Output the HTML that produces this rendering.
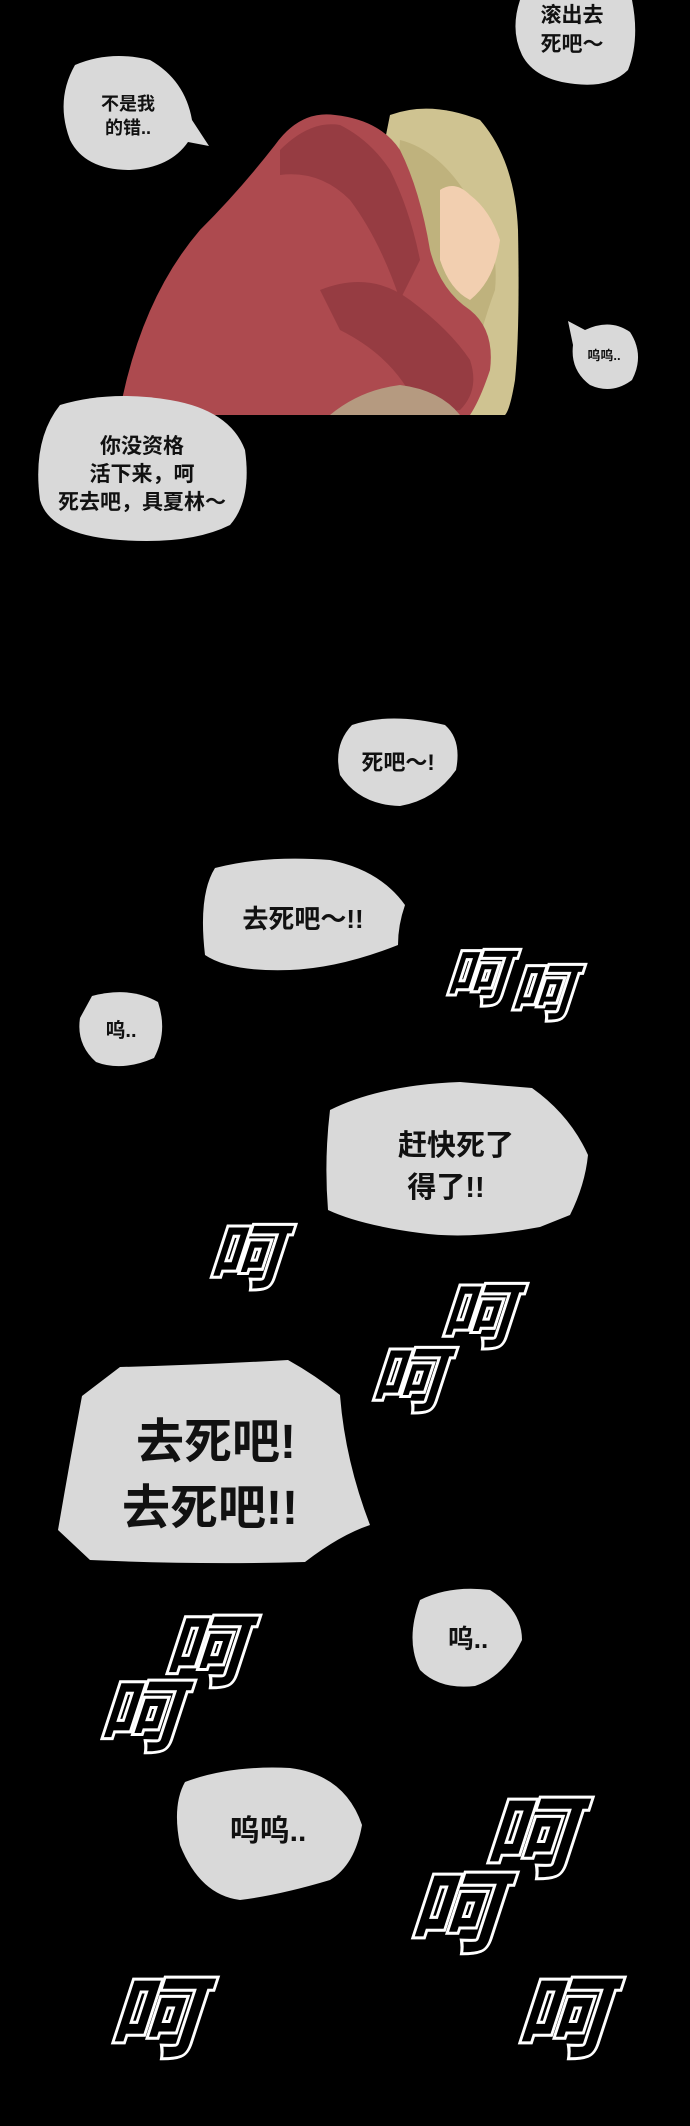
<!DOCTYPE html>
<html><head><meta charset="utf-8"><style>
html,body{margin:0;padding:0;background:#000;}
svg{display:block}
.t{font-family:"Liberation Sans","Noto Sans CJK SC",sans-serif;font-weight:bold;fill:#111;text-anchor:middle}
.h{font-family:"Noto Sans CJK SC","WenQuanYi Zen Hei",sans-serif;font-weight:900;fill:#000;stroke:#fff;stroke-width:3;stroke-linejoin:miter}
</style></head><body>
<svg width="690" height="2126" viewBox="0 0 690 2126" xmlns="http://www.w3.org/2000/svg">
<rect width="690" height="2126" fill="#000"/>
<g>
 <path d="M390 115 Q430 100 480 120 Q515 160 518 230 Q520 330 515 380 Q510 410 505 415 L330 415 Z" fill="#cfc391"/>
 <path d="M400 140 Q440 150 470 200 Q500 240 495 290 Q480 330 470 380 L430 415 L380 415 Z" fill="#bfb27d"/>
 <path d="M119 415 Q140 300 200 230 Q240 190 275 145 Q300 110 335 115 Q380 120 400 150 Q420 190 430 250 Q440 290 470 310 Q495 330 490 370 Q480 400 470 415 Z" fill="#ad4a4f"/>
 <path d="M280 150 Q310 120 340 125 Q370 140 390 170 Q410 210 420 260 L400 300 Q380 240 350 200 Q320 170 280 175 Z" fill="#963c42"/>
 <path d="M320 290 Q370 270 410 300 Q450 330 470 360 Q480 390 460 410 L420 415 Q400 360 340 330 Z" fill="#963c42"/>
 <path d="M440 190 Q455 180 470 195 Q490 210 500 240 Q495 280 470 300 Q450 290 440 260 Z" fill="#f2cfb0"/>
 <path d="M330 415 Q360 390 400 385 Q440 390 460 415 Z" fill="#b59a80"/>
</g>
<path d="M520 0 L632 0 Q640 40 628 70 Q610 88 575 84 Q535 80 522 55 Q510 30 520 0 Z" fill="#d9d9d9"/>
<text class="t" font-size="21" x="572" y="22">滚出去</text>
<text class="t" font-size="21" x="572" y="51">死吧～</text>

<path d="M75 65 Q110 50 150 60 Q185 80 192 120 L209 146 L188 142 Q170 168 130 170 Q85 170 70 140 Q55 100 75 65 Z" fill="#d9d9d9"/>
<text class="t" font-size="18" x="128" y="110">不是我</text>
<text class="t" font-size="18" x="128" y="134">的错..</text>

<path d="M568 321 L585 330 Q610 318 630 332 Q645 355 632 380 Q612 395 590 385 Q570 370 573 345 Z" fill="#d9d9d9"/>
<text class="t" font-size="13" x="604" y="360">呜呜..</text>

<path d="M60 405 Q110 390 170 400 Q230 410 245 450 Q252 500 230 525 Q190 545 120 540 Q50 535 40 500 Q32 440 60 405 Z" fill="#d9d9d9"/>
<text class="t" font-size="21" x="142" y="453">你没资格</text>
<text class="t" font-size="21" x="142" y="481">活下来，呵</text>
<text class="t" font-size="21" x="142" y="509">死去吧，具夏林～</text>

<!-- lower bubbles -->
<path d="M352 725 Q390 712 445 725 Q462 740 456 770 Q435 800 400 806 Q360 805 340 775 Q333 745 352 725 Z" fill="#d9d9d9"/>
<text class="t" font-size="22" x="398" y="770">死吧～!</text>

<path d="M215 868 Q265 855 330 860 Q380 870 405 905 Q398 925 398 945 Q340 968 290 970 Q230 972 205 955 Q198 895 215 868 Z" fill="#d9d9d9"/>
<text class="t" font-size="26" x="303" y="928">去死吧～!!</text>

<path d="M92 996 Q130 986 158 1002 Q168 1032 154 1058 Q122 1072 96 1062 Q76 1044 80 1018 Z" fill="#d9d9d9"/>
<text class="t" font-size="20" x="121" y="1037">呜..</text>

<path d="M330 1110 Q380 1085 460 1082 L532 1088 Q570 1115 588 1155 Q585 1185 570 1215 L540 1227 Q470 1240 420 1233 Q360 1225 328 1210 Q324 1160 330 1110 Z" fill="#d9d9d9"/>
<text class="t" font-size="29" x="456" y="1155">赶快死了</text>
<text class="t" font-size="29" x="446" y="1197">得了!!</text>

<path d="M82 1396 L120 1367 Q200 1365 288 1360 Q315 1375 340 1395 Q345 1460 370 1525 Q340 1535 305 1562 Q200 1565 90 1560 L58 1530 Q70 1460 82 1396 Z" fill="#d9d9d9"/>
<text class="t" font-size="48" x="216" y="1458">去死吧!</text>
<text class="t" font-size="48" x="210" y="1524">去死吧!!</text>

<path d="M420 1600 Q450 1585 490 1590 Q522 1610 522 1640 Q505 1676 475 1686 Q440 1690 420 1670 Q405 1640 420 1600 Z" fill="#d9d9d9"/>
<text class="t" font-size="26" x="468" y="1648">呜..</text>

<path d="M185 1782 Q230 1765 290 1768 Q345 1775 362 1825 Q355 1865 330 1880 Q280 1895 240 1900 Q200 1895 180 1845 Q172 1805 185 1782 Z" fill="#d9d9d9"/>
<text class="t" font-size="30" x="268" y="1841">呜呜..</text>

<!-- outlined 呵 -->
<g transform="translate(442,1000) skewX(-18)"><text class="h" font-size="64">呵</text></g>
<g transform="translate(507,1015) skewX(-18)"><text class="h" font-size="64">呵</text></g>
<g transform="translate(205,1283) skewX(-18)"><text class="h" font-size="74">呵</text></g>
<g transform="translate(437,1342) skewX(-18)"><text class="h" font-size="74">呵</text></g>
<g transform="translate(367,1406) skewX(-18)"><text class="h" font-size="74">呵</text></g>
<g transform="translate(160,1680) skewX(-18)"><text class="h" font-size="82">呵</text></g>
<g transform="translate(95,1745) skewX(-18)"><text class="h" font-size="82">呵</text></g>
<g transform="translate(480,1870) skewX(-18)"><text class="h" font-size="92">呵</text></g>
<g transform="translate(405,1945) skewX(-18)"><text class="h" font-size="92">呵</text></g>
<g transform="translate(105,2050) skewX(-18)"><text class="h" font-size="92">呵</text></g>
<g transform="translate(512,2050) skewX(-18)"><text class="h" font-size="92">呵</text></g>
</svg>
</body></html>
